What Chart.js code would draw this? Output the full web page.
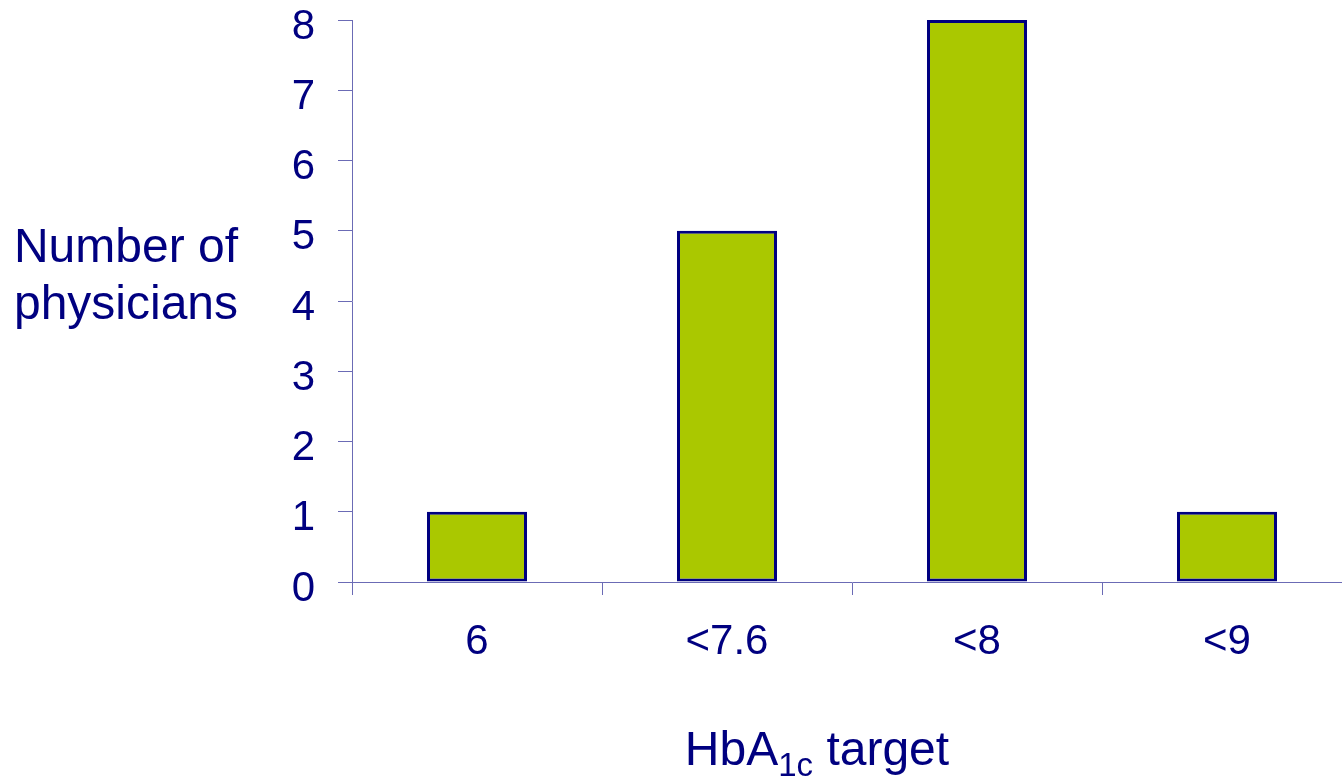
<!DOCTYPE html>
<html>
<head>
<meta charset="utf-8">
<script src="https://cdn.jsdelivr.net/npm/chart.js@4/dist/chart.umd.min.js"></script>
<style>
  html, body { margin: 0; padding: 0; background: #fff; overflow: hidden; }
  #wrap { width: 1352px; height: 781px; }
</style>
</head>
<body>
<div id="wrap"><canvas id="hbaChart"></canvas></div>
<script>
const categories = ["6", "<7.6", "<8", "<9"];
const physicians = [1, 5, 8, 1];
const yTicks = [0, 1, 2, 3, 4, 5, 6, 7, 8];

const NAVY = '#000080';
const AXIS = '#6b6bb5';
const FONT = "'Liberation Sans', Arial, sans-serif";

// axis titles are horizontal here, so they are painted by hand
const axisTitles = {
  id: 'axisTitles',
  afterDraw(chart) {
    const ctx = chart.ctx;
    ctx.save();
    ctx.fillStyle = NAVY;
    ctx.textBaseline = 'alphabetic';
    ctx.font = '48px ' + FONT;
    ctx.textAlign = 'center';
    ctx.fillText('Number of', 126, 262);
    ctx.fillText('physicians', 126, 319);

    // HbA1c target, with the 1c as subscript
    const big = '48px ' + FONT, small = '33px ' + FONT;
    ctx.textAlign = 'left';
    ctx.font = big;
    const w1 = ctx.measureText('HbA').width;
    const w3 = ctx.measureText(' target').width;
    ctx.font = small;
    const w2 = ctx.measureText('1c').width;
    let x = 817 - (w1 + w2 + w3) / 2;
    ctx.font = big;
    ctx.fillText('HbA', x, 765);
    x += w1;
    ctx.font = small;
    ctx.fillText('1c', x, 776);
    x += w2;
    ctx.font = big;
    ctx.fillText(' target', x, 765);
    ctx.restore();
  }
};

new Chart('hbaChart', {
  type: 'bar',
  data: {
    labels: categories,
    datasets: [{
      data: physicians,
      backgroundColor: '#aac800',
      borderColor: NAVY,
      borderWidth: 3,
      borderSkipped: false,
      categoryPercentage: 1,
      barPercentage: 0.4
    }]
  },
  options: {
    responsive: true,
    maintainAspectRatio: false,
    animation: false,
    layout: { padding: { top: 20, right: 0, bottom: 0, left: 0 } },
    plugins: {
      legend: { display: false },
      tooltip: { enabled: false }
    },
    scales: {
      x: {
        afterFit(scale) {
          scale.height = 199;
          scale.paddingLeft = 0;
          scale.paddingRight = 0;
        },
        grid: {
          offset: true,
          drawOnChartArea: false,
          drawTicks: true,
          tickLength: 13,
          color: AXIS,
          lineWidth: 1
        },
        border: { color: AXIS, width: 1 },
        ticks: {
          color: NAVY,
          font: { family: FONT, size: 42, lineHeight: 1 },
          padding: 26,
          maxRotation: 0
        }
      },
      y: {
        min: 0,
        max: 8,
        afterFit(scale) {
          scale.width = 352;
          scale.paddingTop = 0;
          scale.paddingBottom = 0;
        },
        afterBuildTicks(scale) { scale.ticks = yTicks.map(v => ({ value: v })); },
        grid: {
          drawOnChartArea: false,
          drawTicks: true,
          tickLength: 14,
          color: AXIS,
          lineWidth: 1
        },
        border: { color: AXIS, width: 1 },
        ticks: {
          color: NAVY,
          font: { family: FONT, size: 42, lineHeight: 1 },
          padding: 23,
          labelOffset: 7
        }
      }
    }
  },
  plugins: [axisTitles]
});
</script>
</body>
</html>
